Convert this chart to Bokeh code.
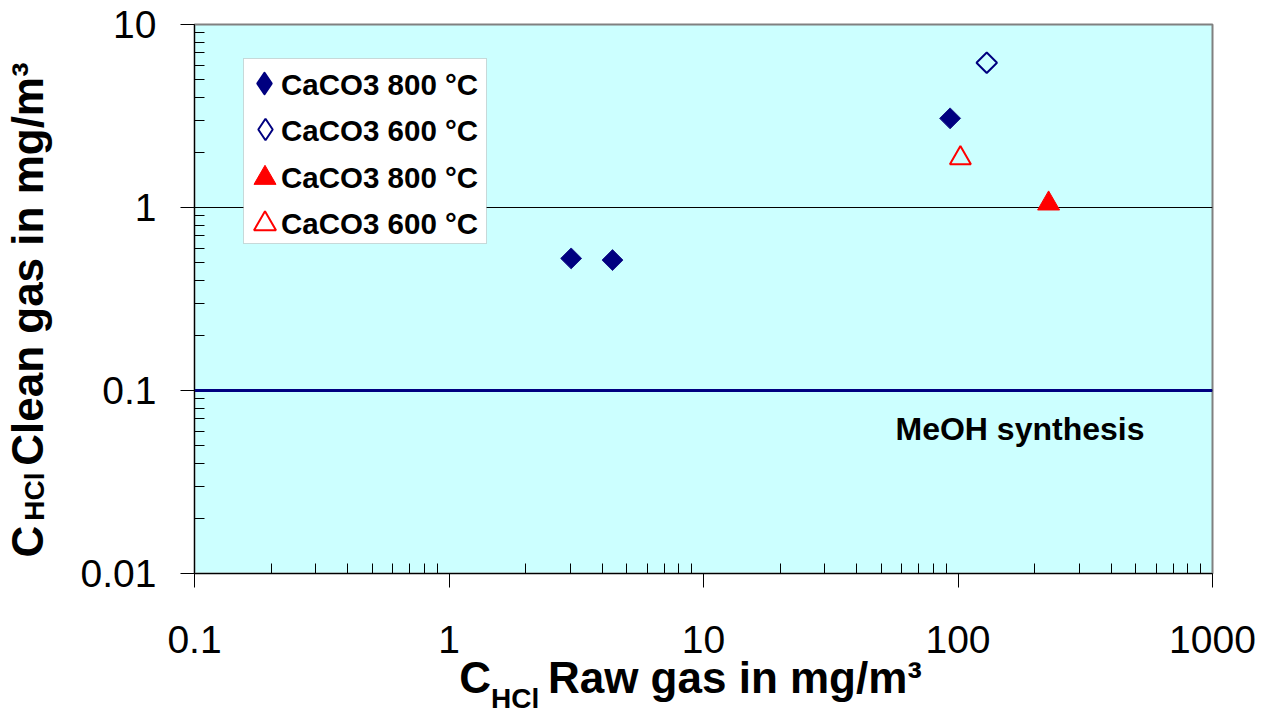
import numpy as np
from bokeh.plotting import figure
from bokeh.models import (Range1d, Legend, LegendItem, Label, BoxAnnotation,
                          CustomJSTickFormatter, FixedTicker, LogAxis)
from bokeh.embed import file_html
from bokeh.resources import INLINE

# ---- data ----
caco3_800_diamond_x = [3.02, 4.39, 93.1]
caco3_800_diamond_y = [0.527, 0.516, 3.07]
caco3_600_diamond_x = [129.7]
caco3_600_diamond_y = [6.18]
caco3_800_triangle_x = [227.0]
caco3_800_triangle_y = [1.05]
caco3_600_triangle_x = [102.2]
caco3_600_triangle_y = [1.86]
meoh_limit_x = [0.1, 1000.0]
meoh_limit_y = [0.1, 0.1]
x_ticks = [0.1, 1, 10, 100, 1000]
y_ticks = [0.01, 0.1, 1, 10]
legend_labels = ["CaCO3 800 °C", "CaCO3 600 °C", "CaCO3 800 °C", "CaCO3 600 °C"]
meoh_text = "MeOH synthesis"
x_title = ["C", "HCl", "Raw gas in mg/m³"]
y_title = ["C", "HCl", "Clean gas in mg/m³"]

FONT = "Liberation Sans"
NAVY = "#000080"
RED = "#FF0000"

# frame geometry (pixels)
FL, FT, FW, FH = 193, 24, 1019, 550
W, H = 1261, 716


def x_of_px(px):
    return 10 ** ((px - FL) / (FW / 4.0) - 1)


def y_of_px(py):
    return 10 ** (1 - (py - FT) / (FH / 3.0))


p = figure(width=W, height=H, x_axis_type="log", y_axis_type="log",
           x_range=Range1d(0.1, 1000), y_range=Range1d(0.01, 10),
           output_backend="svg", toolbar_location=None,
           min_border_left=FL, min_border_right=W - FL - FW,
           min_border_top=FT, min_border_bottom=H - FT - FH)
p.background_fill_color = "#CCFFFF"
p.border_fill_color = "white"
p.outline_line_color = "#808080"
p.outline_line_width = 2


def minors(ticks):
    out = []
    for t in ticks[:-1]:
        out += [t * k for k in range(2, 10)]
    return out


fmt = CustomJSTickFormatter(code="return tick >= 1 ? tick.toFixed(0) : tick.toPrecision(1);")
xt = FixedTicker(ticks=x_ticks, minor_ticks=minors(x_ticks))
yt = FixedTicker(ticks=y_ticks, minor_ticks=minors(y_ticks))
p.xaxis.ticker = xt
p.yaxis.ticker = yt
for ax in (p.xaxis[0], p.yaxis[0]):
    ax.formatter = fmt
    ax.axis_line_color = "black"
    ax.axis_line_width = 1
    ax.major_tick_line_color = "black"
    ax.major_tick_in = 0
    ax.major_tick_out = 14
    ax.minor_tick_line_color = "black"
    ax.minor_tick_in = 10
    ax.minor_tick_out = 0
    ax.major_label_text_font = FONT
    ax.major_label_text_font_size = "39px"
    ax.major_label_text_color = "black"
p.xaxis.major_label_standoff = 38
p.yaxis.major_label_standoff = 24

p.xgrid.visible = False
p.ygrid.ticker = yt
p.ygrid.grid_line_color = "black"
p.ygrid.grid_line_width = 1

# MeOH synthesis limit line
p.line(meoh_limit_x, meoh_limit_y, line_color=NAVY, line_width=3)

# legend swatch carriers for the diamonds: legend markers are drawn unrotated,
# so a "diamond" marker is used there; in the plot they have zero size.
s1 = p.scatter(caco3_800_diamond_x, caco3_800_diamond_y, marker="diamond", size=0,
               fill_color=NAVY, line_color=NAVY, line_width=2.5, line_join="round")
s2 = p.scatter(caco3_600_diamond_x, caco3_600_diamond_y, marker="diamond", size=0,
               fill_alpha=0, line_color=NAVY, line_width=2)

r1 = p.scatter(caco3_800_diamond_x, caco3_800_diamond_y, marker="square", angle=np.pi / 4,
               size=14.8, fill_color=NAVY, line_color="#1a1a8a", line_width=1)
r2 = p.scatter(caco3_600_diamond_x, caco3_600_diamond_y, marker="square", angle=np.pi / 4,
               size=14.5, fill_alpha=0, line_color=NAVY, line_width=2)
r3 = p.scatter(caco3_800_triangle_x, caco3_800_triangle_y, marker="triangle",
               size=22, fill_color=RED, line_color=RED, line_width=1)
r4 = p.scatter(caco3_600_triangle_x, caco3_600_triangle_y, marker="triangle",
               size=21, fill_alpha=0, line_color=RED, line_width=2)

# legend frame
box = BoxAnnotation(left=243, right=486, top=58, bottom=243,
                    left_units="canvas", right_units="canvas",
                    top_units="canvas", bottom_units="canvas",
                    fill_color="white", fill_alpha=1,
                    line_color="#808080", line_width=1)
p.add_layout(box)

# one swatch legend per entry (glyph only), texts as labels
swatches = [(s1, 263.5, 84, 52), (s2, 263.5, 130, 54), (r3, 263.5, 179, 55), (r4, 263.5, 225, 55)]
for rend, cx, cy, B in swatches:
    lg = Legend(items=[LegendItem(label=" ", renderers=[rend])],
                location=(int(round(cx - B / 2 - FL)), int(round(FT + FH - (cy + B / 2)))),
                glyph_width=B, glyph_height=B, label_height=B, label_width=1,
                spacing=0, label_standoff=0, padding=0, margin=0,
                background_fill_alpha=0, border_line_alpha=0,
                label_text_font=FONT, label_text_font_size="10px")
    p.add_layout(lg)

for txt, cy in zip(legend_labels, [84, 130, 177, 223]):
    p.add_layout(Label(x=280.5, y=cy, x_units="canvas", y_units="canvas", text=txt,
                       text_font=FONT, text_font_size="29.5px", text_font_style="bold",
                       text_color="black", text_baseline="middle", text_align="left"))

# MeOH text
p.add_layout(Label(x=895, y=428, x_units="canvas", y_units="canvas", text=meoh_text,
                   text_font=FONT, text_font_size="32px", text_font_style="bold",
                   text_color="black", text_baseline="middle", text_align="left"))


# axis titles (with subscript) as label-only axes stacked outside the main axes
def title_axis(ticks, labels, size, standoff, orientation="horizontal"):
    order = np.argsort(ticks)
    ax = LogAxis(ticker=FixedTicker(ticks=[ticks[i] for i in order], minor_ticks=[]),
                 formatter=CustomJSTickFormatter(args=dict(labels=[labels[i] for i in order]),
                                                 code="return labels[index];"))
    ax.axis_line_color = None
    ax.major_tick_line_color = None
    ax.minor_tick_line_color = None
    ax.major_tick_in = ax.major_tick_out = ax.minor_tick_in = ax.minor_tick_out = 0
    ax.major_label_standoff = standoff
    ax.major_label_text_font = FONT
    ax.major_label_text_font_size = f"{size}px"
    ax.major_label_text_font_style = "bold"
    ax.major_label_text_color = "black"
    ax.major_label_orientation = orientation
    return ax


BIG, SMALL = 44, 28
xa_big = title_axis([x_of_px(474), x_of_px(734)], [x_title[0], x_title[2]], BIG, -3)
xa_small = title_axis([x_of_px(514)], [x_title[1]], SMALL, -22)
p.add_layout(xa_big, "below")
p.add_layout(xa_small, "below")

ya_small = title_axis([y_of_px(497)], [y_title[1]], SMALL, 27, "vertical")
ya_big = title_axis([y_of_px(542), y_of_px(264)], [y_title[0], y_title[2]], BIG, -36, "vertical")
p.add_layout(ya_small, "left")
p.add_layout(ya_big, "left")

open("out.html", "w").write(file_html(p, INLINE))
